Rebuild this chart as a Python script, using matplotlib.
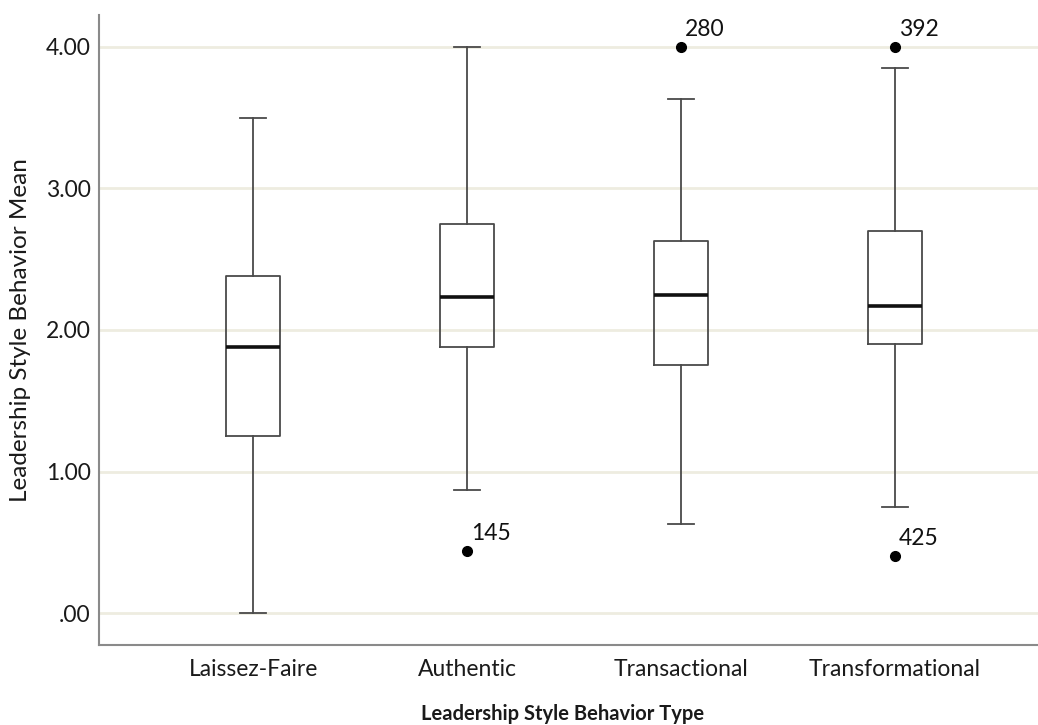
import matplotlib
matplotlib.use("Agg")
import matplotlib.pyplot as plt

# Summary statistics per leadership style
categories = ["Laissez-Faire", "Authentic", "Transactional", "Transformational"]
whisker_low = [0.00, 0.87, 0.63, 0.75]
q1 = [1.25, 1.88, 1.75, 1.90]
median = [1.88, 2.23, 2.25, 2.17]
q3 = [2.38, 2.75, 2.63, 2.70]
whisker_high = [3.50, 4.00, 3.63, 3.85]
outliers = [[], [0.44], [4.00], [4.00, 0.40]]
outlier_ids = [[], ["145"], ["280"], ["392", "425"]]

y_ticks = [0, 1, 2, 3, 4]
y_tick_labels = [".00", "1.00", "2.00", "3.00", "4.00"]

plt.rcParams["font.family"] = ["Lato", "DejaVu Sans"]

fig = plt.figure(figsize=(10.38, 7.25), dpi=100)
ax = fig.add_axes([99 / 1038, 80 / 725, 1 - 99 / 1038, 630 / 725])

stats = []
for i, name in enumerate(categories):
    stats.append(dict(label=name, whislo=whisker_low[i], q1=q1[i], med=median[i],
                      q3=q3[i], whishi=whisker_high[i], fliers=[]))

positions = list(range(len(categories)))
ax.bxp(stats, positions=positions, widths=0.25, capwidths=0.125,
       showfliers=False, patch_artist=False,
       boxprops=dict(color="#4a4a4a", linewidth=1.3),
       whiskerprops=dict(color="#4a4a4a", linewidth=1.3),
       capprops=dict(color="#4a4a4a", linewidth=1.3),
       medianprops=dict(color="#111111", linewidth=2.6),
       zorder=3)

for pos, vals, ids in zip(positions, outliers, outlier_ids):
    for v, lab in zip(vals, ids):
        ax.plot(pos, v, "o", color="black", markersize=7, zorder=4)
        ax.annotate(lab, (pos, v), xytext=(3, 5), textcoords="offset points",
                    fontsize=16.5, color="#111111", ha="left", va="bottom")

ax.set_xlim(-0.72, 3.668)
ax.set_ylim(-0.226, 4.226)
ax.set_yticks(y_ticks)
ax.set_yticklabels(y_tick_labels)
ax.set_xticks(positions)
ax.set_xticklabels(categories)
ax.tick_params(axis="both", length=0, labelsize=16.5, colors="#1a1a1a")
ax.tick_params(axis="y", pad=6)
ax.tick_params(axis="x", pad=10)

ax.yaxis.grid(True, color="#eeece0", linewidth=2)
ax.set_axisbelow(True)

for side in ["top", "right"]:
    ax.spines[side].set_visible(False)
for side in ["left", "bottom"]:
    ax.spines[side].set_color("#8a8a8a")
    ax.spines[side].set_linewidth(1.5)

ax.set_ylabel("Leadership Style Behavior Mean", fontsize=17.5, color="#1a1a1a")
ax.yaxis.set_label_coords(-0.072, 0.5)
ax.set_xlabel("Leadership Style Behavior Type", fontsize=14.5, fontweight="bold",
              color="#1a1a1a")
ax.xaxis.set_label_coords(0.494, -0.093)

fig.savefig("out.png", dpi=100)
